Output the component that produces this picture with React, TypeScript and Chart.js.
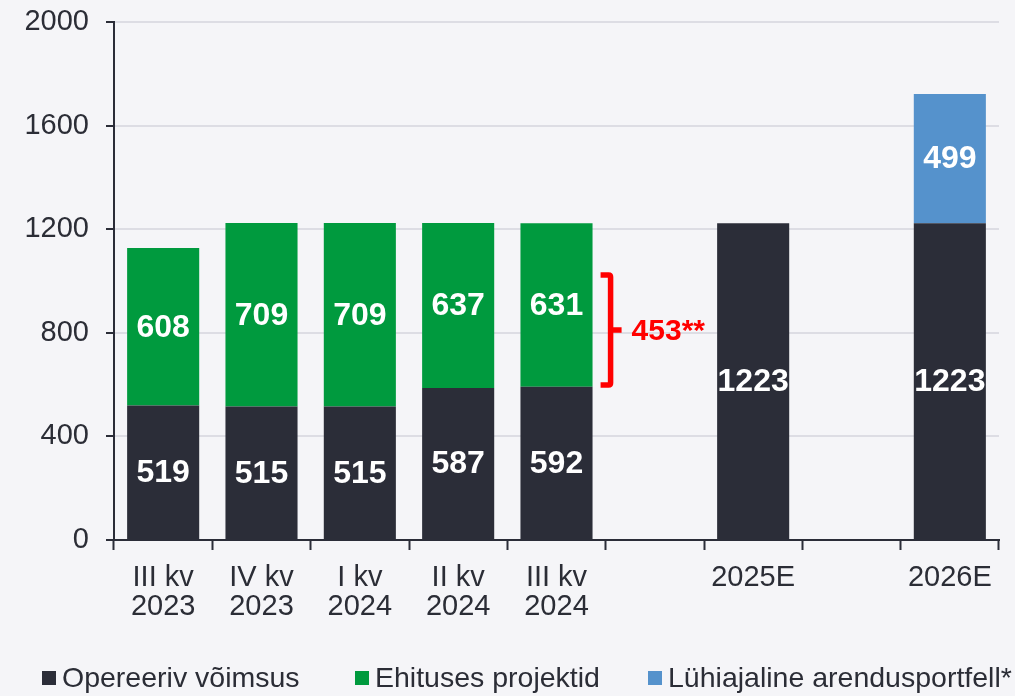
import React, { useEffect, useRef } from "react";
import { Chart, registerables } from "chart.js";

Chart.register(...registerables);

const categories: (string | string[])[] = [
  ["III kv", "2023"],
  ["IV kv", "2023"],
  ["I kv", "2024"],
  ["II kv", "2024"],
  ["III kv", "2024"],
  "",
  "2025E",
  "",
  "2026E",
];
const operating = [519, 515, 515, 587, 592, null, 1223, null, 1223];
const construction = [608, 709, 709, 637, 631, null, null, null, null];
const shortTerm = [null, null, null, null, null, null, null, null, 499];
const seriesNames = ["Opereeriv võimsus", "Ehituses projektid", "Lühiajaline arendusportfell*"];
const yTicks = [0, 400, 800, 1200, 1600, 2000];
const bracketRange = [598, 1023];
const bracketLabel = "453**";
const bracketAfterIndex = 4;

const DARK = "#2B2D38";
const GREEN = "#009A3E";
const BLUE = "#5592CC";
const BG = "#F5F5F8";
const GRID = "#DDDDE4";
const TEXT = "#2B2D36";
const FONT = "'Liberation Sans', Arial, sans-serif";

const valueLabels = {
  id: "valueLabels",
  afterDatasetsDraw(chart: any) {
    const ctx = chart.ctx;
    ctx.save();
    ctx.fillStyle = "#FFFFFF";
    ctx.font = `bold 32px ${FONT}`;
    ctx.textAlign = "center";
    ctx.textBaseline = "middle";
    chart.data.datasets.forEach((ds: any, di: number) => {
      const meta = chart.getDatasetMeta(di);
      meta.data.forEach((el: any, i: number) => {
        const v = ds.data[i];
        if (v == null) return;
        ctx.fillText(String(v), el.x, (el.y + el.base) / 2 + 1);
      });
    });
    ctx.restore();
  },
};

const bracketPlugin = {
  id: "bracket",
  afterDatasetsDraw(chart: any) {
    const ctx = chart.ctx;
    const xs = chart.scales.x;
    const ys = chart.scales.y;
    const c0 = xs.getPixelForValue(bracketAfterIndex);
    const c1 = xs.getPixelForValue(bracketAfterIndex + 1);
    const x = c0 + 0.55 * (c1 - c0);
    const yTop = ys.getPixelForValue(bracketRange[1]);
    const yBot = ys.getPixelForValue(bracketRange[0]);
    const yMid = (yTop + yBot) / 2;
    ctx.save();
    ctx.strokeStyle = "#FF0000";
    ctx.lineWidth = 5.5;
    ctx.lineJoin = "round";
    ctx.lineCap = "butt";
    ctx.beginPath();
    ctx.moveTo(x - 10, yTop);
    ctx.lineTo(x - 2, yTop);
    ctx.quadraticCurveTo(x, yTop, x, yTop + 2);
    ctx.lineTo(x, yBot - 2);
    ctx.quadraticCurveTo(x, yBot, x - 2, yBot);
    ctx.lineTo(x - 10, yBot);
    ctx.moveTo(x, yMid);
    ctx.lineTo(x + 11, yMid);
    ctx.stroke();
    ctx.fillStyle = "#FF0000";
    ctx.font = `bold 30px ${FONT}`;
    ctx.textAlign = "left";
    ctx.textBaseline = "middle";
    ctx.fillText(bracketLabel, x + 21, yMid + 2);
    ctx.restore();
  },
};

const legendX = [42, 355, 648];

const legendPlugin = {
  id: "customLegend",
  afterDraw(chart: any) {
    const ctx = chart.ctx;
    ctx.save();
    ctx.font = `28.5px ${FONT}`;
    ctx.textBaseline = "middle";
    ctx.textAlign = "left";
    const y = 678;
    const box = 14;
    const gap = 6;
    chart.data.datasets.forEach((ds: any, i: number) => {
      const x = legendX[i];
      ctx.fillStyle = ds.backgroundColor;
      ctx.fillRect(x, y - box / 2, box, box);
      ctx.fillStyle = TEXT;
      ctx.fillText(ds.label, x + box + gap, y + 1);
    });
    ctx.restore();
  },
};

export default function App() {
  const ref = useRef<HTMLCanvasElement | null>(null);
  useEffect(() => {
    if (!ref.current) return;
    const chart = new Chart(ref.current, {
      type: "bar",
      data: {
        labels: categories as any,
        datasets: [
          { label: seriesNames[0], data: operating as any, backgroundColor: DARK },
          { label: seriesNames[1], data: construction as any, backgroundColor: GREEN },
          { label: seriesNames[2], data: shortTerm as any, backgroundColor: BLUE },
        ],
      },
      options: {
        animation: false,
        responsive: false,
        devicePixelRatio: 1,
        layout: { padding: { left: 0, right: 16, top: 22, bottom: 56 } },
        datasets: { bar: { categoryPercentage: 1, barPercentage: 0.733 } } as any,
        plugins: { legend: { display: false }, tooltip: { enabled: false } },
        scales: {
          x: {
            stacked: true,
            offset: true,
            grid: {
              offset: true,
              drawOnChartArea: false,
              drawTicks: true,
              tickLength: 10,
              tickColor: DARK,
              tickWidth: 2,
            },
            border: { color: DARK, width: 2 },
            ticks: {
              color: TEXT,
              padding: 13,
              maxRotation: 0,
              autoSkip: false,
              font: { family: FONT, size: 29, lineHeight: 1.0 },
            },
            afterFit(s: any) {
              s.height = 100;
              s.paddingLeft = 0;
              s.paddingRight = 0;
            },
          },
          y: {
            stacked: true,
            min: 0,
            max: 2000,
            afterBuildTicks(s: any) {
              s.ticks = yTicks.map((v) => ({ value: v }));
            },
            grid: {
              color: GRID,
              lineWidth: 2,
              drawTicks: true,
              tickLength: 8,
              tickColor: DARK,
              tickWidth: 2,
            },
            border: { color: DARK, width: 2 },
            ticks: {
              color: TEXT,
              padding: 17,
              font: { family: FONT, size: 29 },
              callback: (v: any) => String(v),
            },
            afterFit(s: any) {
              s.width = 114;
              s.paddingTop = 0;
              s.paddingBottom = 0;
            },
          },
        },
      },
      plugins: [valueLabels, bracketPlugin, legendPlugin],
    });
    return () => chart.destroy();
  }, []);
  return (
    <div style={{ position: "fixed", left: 0, top: 0, width: 1015, height: 696, background: BG }}>
      <canvas ref={ref} width={1015} height={696} style={{ display: "block" }} />
    </div>
  );
}
